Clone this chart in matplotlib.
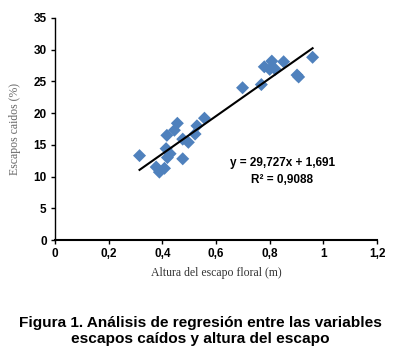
"""Scatter + linear regression: escapos caidos vs altura del escapo floral."""

import matplotlib
matplotlib.use("Agg")
import matplotlib.pyplot as plt
import numpy as np

# values
altura = [0.315, 0.377, 0.389, 0.408, 0.417, 0.414, 0.419, 0.429, 0.445, 0.456,
          0.476, 0.476, 0.497, 0.522, 0.529, 0.557, 0.699, 0.769, 0.780, 0.800,
          0.808, 0.821, 0.852, 0.902, 0.908, 0.960]
caidos = [13.3, 11.5, 10.7, 11.3, 16.5, 14.4, 13.0, 13.6, 17.3, 18.4,
          12.8, 15.9, 15.4, 16.7, 18.0, 19.2, 24.0, 24.5, 27.3, 26.9,
          28.2, 26.9, 28.1, 26.0, 25.7, 28.8]
slope, intercept = 29.727, 1.691
r2 = 0.9088

xticks = [0, 0.2, 0.4, 0.6, 0.8, 1.0, 1.2]
xticklabels = ["0", "0,2", "0,4", "0,6", "0,8", "1", "1,2"]
yticks = [0, 5, 10, 15, 20, 25, 30, 35]

SANS = ["Liberation Sans", "DejaVu Sans"]
SERIF = ["Liberation Serif", "DejaVu Serif"]

fig = plt.figure(figsize=(4.0, 3.57), dpi=100)
ax = fig.add_axes([0.1375, 0.3277, 0.805, 0.622])

ax.scatter(altura, caidos, marker="D", s=44, color="#4F81BD", edgecolors="none", zorder=2)
xl = np.array([min(altura), max(altura)])
ax.plot(xl, slope * xl + intercept, color="black", lw=1.5, zorder=3)

ax.text(0.847, 12.2, "y = 29,727x + 1,691", ha="center", va="center",
        fontsize=8.5, fontweight="bold", family=SANS)
ax.text(0.847, 9.4, "R² = 0,9088", ha="center", va="center",
        fontsize=8.5, fontweight="bold", family=SANS)

ax.set_xlim(0, 1.2); ax.set_ylim(0, 35)
ax.set_xticks(xticks); ax.set_xticklabels(xticklabels)
ax.set_yticks(yticks)
for lab in ax.get_xticklabels() + ax.get_yticklabels():
    lab.set_family(SANS); lab.set_fontweight("bold"); lab.set_fontsize(8.5)
ax.tick_params(direction="out", length=3, width=1, pad=3)
ax.spines["top"].set_visible(False); ax.spines["right"].set_visible(False)
ax.spines["left"].set_linewidth(1); ax.spines["bottom"].set_linewidth(1.5)

ax.set_xlabel("Altura del escapo floral (m)", family=SERIF, fontsize=8.5,
              color="#333333", labelpad=5)
ax.set_ylabel("Escapos caidos (%)", family=SERIF, fontsize=8.5,
              color="#666666", labelpad=9)

fig.text(0.5, 0.073, "Figura 1. Análisis de regresión entre las variables\n"
         "escapos caídos y altura del escapo", ha="center", va="center",
         fontsize=11.1, fontweight="bold", family=SANS, linespacing=1.2)

fig.savefig("out.png", dpi=100)
